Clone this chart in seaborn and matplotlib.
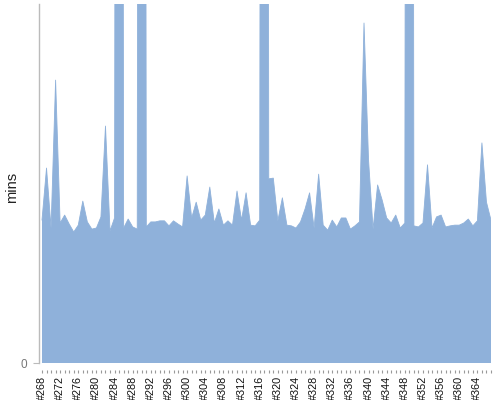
import numpy as np
import pandas as pd
import matplotlib
matplotlib.use("Agg")
import matplotlib.pyplot as plt
import seaborn as sns

# builds #268 .. #367
builds = ["#%d" % n for n in range(268, 368)]

# minutes per build (the four spikes go far above the axis and get clipped)
mins = [
    39.8, 54.3, 37.6, 78.8, 39.0, 41.2, 38.7, 36.5, 38.4, 45.1,
    39.3, 37.3, 37.6, 40.7, 66.0, 36.8, 40.4, 1000.0, 37.6, 40.1,
    37.9, 37.3, 1000.0, 37.9, 39.3, 39.3, 39.6, 39.6, 38.2, 39.6,
    38.7, 37.9, 52.1, 40.4, 44.8, 39.8, 41.2, 49.0, 39.0, 42.9,
    38.4, 39.6, 38.4, 47.9, 39.8, 47.4, 38.4, 38.2, 39.8, 1000.0,
    51.3, 51.5, 39.6, 46.0, 38.4, 38.2, 37.6, 39.3, 42.9, 47.4,
    37.6, 52.6, 38.4, 37.0, 39.8, 37.9, 40.4, 40.4, 37.3, 38.2,
    39.3, 94.7, 56.5, 37.3, 49.6, 45.4, 40.4, 39.0, 41.2, 37.6,
    39.0, 1000.0, 38.2, 37.9, 39.0, 55.2, 37.6, 40.7, 41.2, 37.9,
    38.2, 38.4, 38.4, 39.0, 40.1, 38.2, 39.6, 61.3, 44.8, 39.8,
]

df = pd.DataFrame({"build": builds, "mins": mins})
df["pos"] = np.arange(len(df))

sns.set_style("white")
plt.rcParams["font.family"] = ["Liberation Sans", "DejaVu Sans"]

fig = plt.figure(figsize=(5, 4), dpi=100)
ax = fig.add_axes([0.077, 0.0925, 0.905, 0.8975])

area_color = "#8fb1da"
ax.fill_between(df["pos"], df["mins"], 0, color=area_color, linewidth=0)
sns.lineplot(data=df, x="pos", y="mins", ax=ax, color=area_color, linewidth=0.6)

ax.set_xlim(-0.77, len(df) - 1)
ax.set_ylim(0, 100)

ax.set_xticks(df["pos"])
ax.set_xticklabels([b if i % 4 == 0 else "" for i, b in enumerate(builds)])
ax.set_yticks([0])
ax.set_yticklabels(["0"])

ax.set_xlabel("")
ax.set_ylabel("mins", fontsize=10.5, color="#222222")
ax.yaxis.set_label_coords(-0.042, 0.49)

for s in ["top", "right"]:
    ax.spines[s].set_visible(False)
ax.spines["bottom"].set_position(("outward", 5))
ax.spines["bottom"].set_visible(False)
ax.spines["left"].set_color("#bbbbbb")
ax.spines["left"].set_linewidth(1.0)

ax.tick_params(axis="x", length=2, width=0.8, color="#999999", pad=2,
               bottom=True, labelrotation=90, labelsize=7.8, labelcolor="#111111")
ax.tick_params(axis="y", length=4, width=0.8, color="#bbbbbb", pad=4,
               left=True, labelsize=8.5, labelcolor="#777777")

fig.savefig("out.png", dpi=100)
